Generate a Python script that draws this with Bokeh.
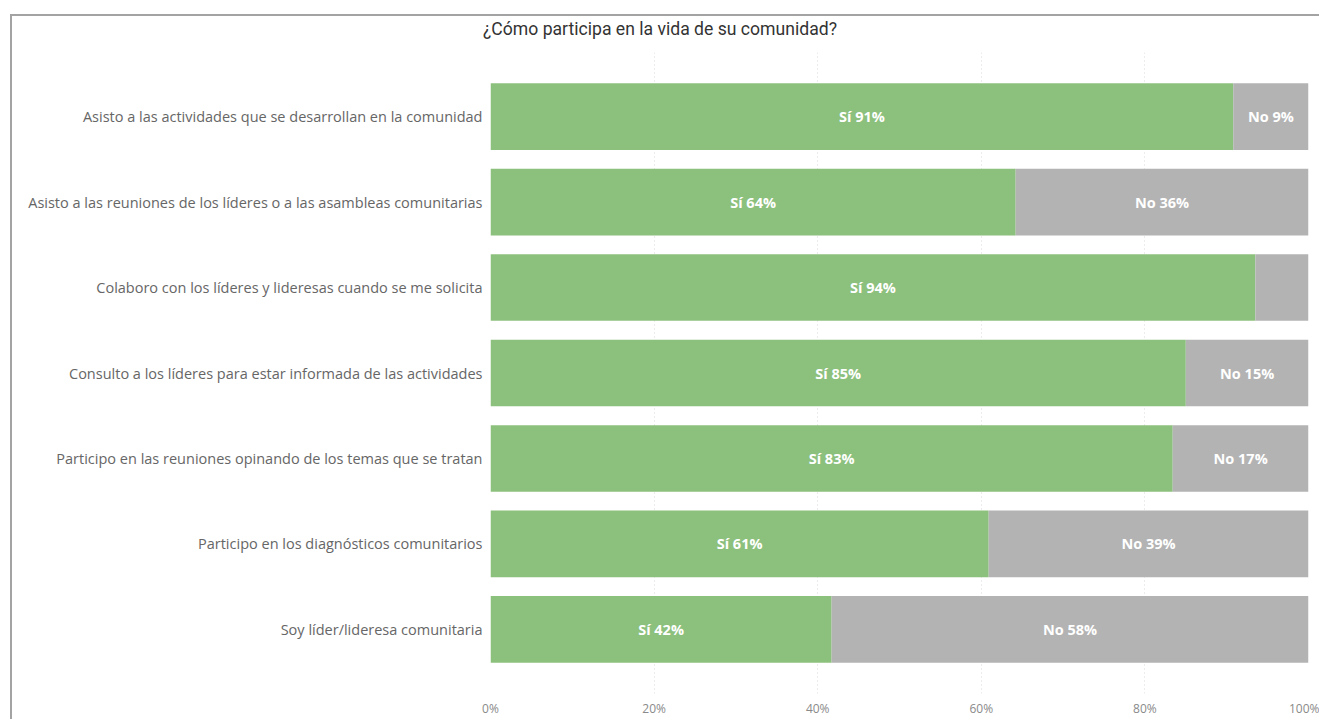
from bokeh.plotting import figure
from bokeh.layouts import column
from bokeh.models import ColumnDataSource, FactorRange, FixedTicker, Div
from bokeh.core.properties import value
from bokeh.embed import file_html
from bokeh.resources import INLINE

categories = [
    "Asisto a las actividades que se desarrollan en la comunidad",
    "Asisto a las reuniones de los líderes o a las asambleas comunitarias",
    "Colaboro con los líderes y lideresas cuando se me solicita",
    "Consulto a los líderes para estar informada de las actividades",
    "Participo en las reuniones opinando de los temas que se tratan",
    "Participo en los diagnósticos comunitarios",
    "Soy líder/lideresa comunitaria",
]
si_values = [90.8, 64.2, 93.5, 85.0, 83.4, 60.9, 41.7]
no_values = [9.2, 35.8, 6.5, 15.0, 16.6, 39.1, 58.3]
si_labels = ["Sí 91%", "Sí 64%", "Sí 94%", "Sí 85%", "Sí 83%", "Sí 61%", "Sí 42%"]
no_labels = ["No 9%", "No 36%", "", "No 15%", "No 17%", "No 39%", "No 58%"]
x_ticks = [0, 20, 40, 60, 80, 100]
x_tick_labels = ["0%", "20%", "40%", "60%", "80%", "100%"]
title_text = "¿Cómo participa en la vida de su comunidad?"

GREEN = "#8cc07d"
GREY = "#b3b3b3"

src = ColumnDataSource(dict(
    cat=categories,
    si_end=si_values,
    no_end=[s + n for s, n in zip(si_values, no_values)],
    si_mid=[s / 2 for s in si_values],
    no_mid=[s + n / 2 for s, n in zip(si_values, no_values)],
    si_lab=si_labels,
    no_lab=no_labels,
))

y_range = FactorRange(factors=list(reversed(categories)), range_padding=0.25,
                      range_padding_units="absolute")

p = figure(width=1307, height=667, y_range=y_range, x_range=(0, 100),
           output_backend="svg", toolbar_location=None, margin=0,
           min_border_left=478, min_border_right=11, min_border_top=0,
           min_border_bottom=22, outline_line_color=None)

p.hbar(y="cat", left=0, right="si_end", height=0.78, source=src,
       fill_color=GREEN, line_color=None)
p.hbar(y="cat", left="si_end", right="no_end", height=0.78, source=src,
       fill_color=GREY, line_color=None)

for xcol, tcol in (("si_mid", "si_lab"), ("no_mid", "no_lab")):
    p.text(x=xcol, y="cat", text=tcol, source=src, text_color="white",
           text_font=value("Open Sans"), text_font_style="bold",
           text_font_size="14.5px", text_align="center", text_baseline="middle")

p.xaxis.ticker = FixedTicker(ticks=x_ticks)
p.xaxis.major_label_overrides = {t: l for t, l in zip(x_ticks, x_tick_labels)}
p.xaxis.axis_line_color = None
p.xaxis.major_tick_line_color = None
p.xaxis.minor_tick_line_color = None
p.xaxis.major_tick_out = 0
p.xaxis.major_tick_in = 0
p.xaxis.major_label_text_font = "Open Sans"
p.xaxis.major_label_text_font_size = "12px"
p.xaxis.major_label_text_color = "#8a8a8a"
p.xaxis.major_label_standoff = 6

p.yaxis.axis_line_color = None
p.yaxis.major_tick_line_color = None
p.yaxis.minor_tick_line_color = None
p.yaxis.major_tick_out = 0
p.yaxis.major_tick_in = 0
p.yaxis.major_label_text_font = "Open Sans"
p.yaxis.major_label_text_font_size = "14.5px"
p.yaxis.major_label_text_color = "#666666"
p.yaxis.major_label_standoff = 8

p.ygrid.grid_line_color = None
p.xgrid.grid_line_color = "#d9d9d9"
p.xgrid.grid_line_dash = "1 3"
p.xgrid.grid_line_width = 1

p.background_fill_color = "white"
p.border_fill_color = "white"

title_div = Div(
    text=('<div style="margin-left:471px;margin-top:1px;font-family:Roboto;'
          'font-size:17.6px;color:#333333;white-space:nowrap">'
          + title_text + '</div>'),
    width=1307, height=36, margin=0)

layout = column(title_div, p, spacing=0, margin=0,
                styles={"margin-left": "10px", "margin-top": "14px",
                        "border-left": "2px solid #a3a3a3",
                        "border-top": "2px solid #a3a3a3",
                        "background": "white"})

open("out.html", "w").write(file_html(layout, INLINE))
